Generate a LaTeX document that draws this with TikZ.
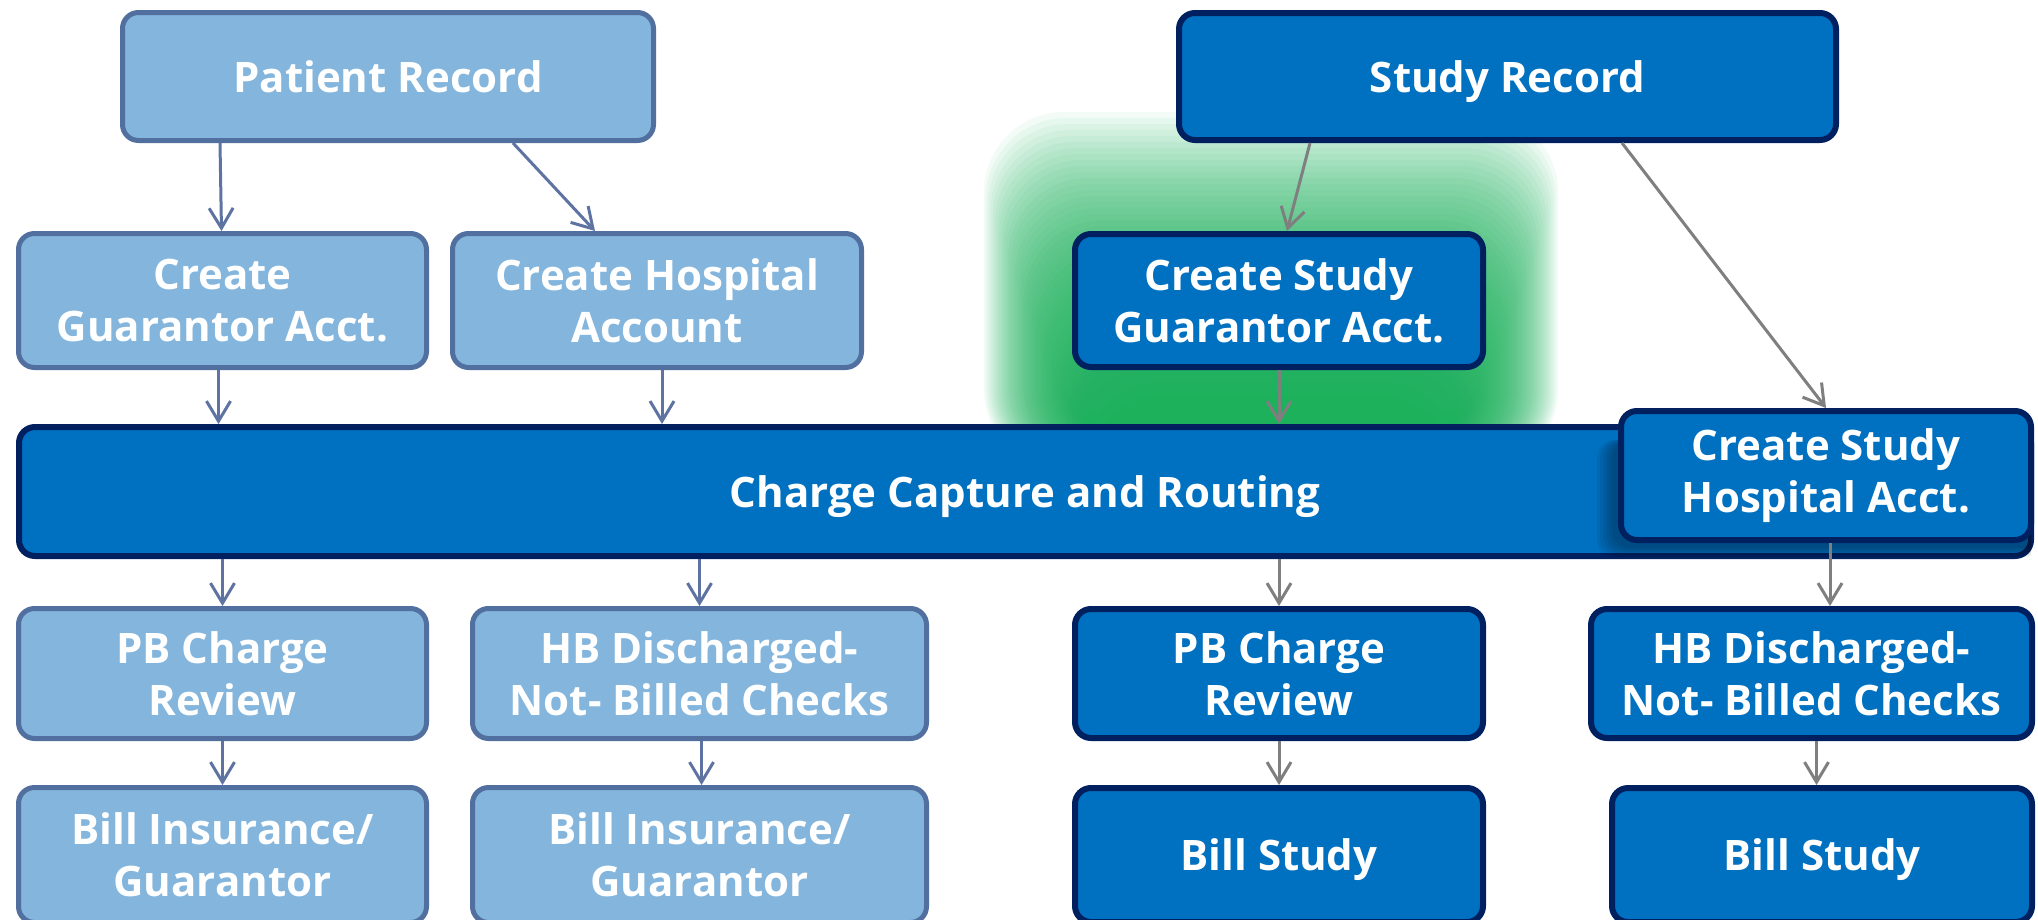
\documentclass[tikz,border=0pt]{standalone}
\usepackage{fontspec}
\setmainfont{Open Sans}
\usetikzlibrary{arrows.meta,calc}
\definecolor{lightfill}{HTML}{83B5DD}
\definecolor{lightdraw}{HTML}{52709F}
\definecolor{darkfill}{HTML}{0070C0}
\definecolor{darkdraw}{HTML}{002060}
\definecolor{arrowL}{HTML}{5E73A2}
\definecolor{arrowR}{HTML}{7F7F7F}
\definecolor{glowc}{HTML}{13B157}
\begin{document}
\begin{tikzpicture}[x=1pt,y=-1pt,
  box/.style={rounded corners=16pt, align=center, text=white, font=\fontsize{42}{52}\selectfont\bfseries, inner sep=0pt},
  oneline/.style={text height=31pt, text depth=0pt},
  lbox/.style={box, fill=lightfill, draw=lightdraw, line width=5pt},
  dbox/.style={box, fill=darkfill, draw=darkdraw, line width=6pt},
  larr/.style={draw=arrowL, line width=3pt, -{Straight Barb[length=20pt,width=24pt]}},
  rarr/.style={draw=arrowR, line width=3pt, -{Straight Barb[length=20pt,width=24pt]}},
]
\useasboundingbox (0,0) rectangle (2038,919);
\clip (0,0) rectangle (2038,919);
\fill[white] (0,0) rectangle (2038,919);
% green glow
\foreach \k in {0,...,49}{
  \fill[glowc, opacity=0.05, rounded corners=80pt]
    ({984+\k*2.2},{112+\k*6}) rectangle ({1558-\k*2.2},470);
}
% top row
\node[lbox, oneline, minimum width=531pt, minimum height=128pt] (pr) at (388,76.5) {Patient Record};
\node[dbox, oneline, minimum width=657pt, minimum height=127pt] (sr) at (1507.5,76.5) {Study Record};
% second row
\node[lbox, minimum width=408pt, minimum height=134pt] (cg) at (222.5,300.5) {Create\\Guarantor Acct.};
\node[lbox, minimum width=409pt, minimum height=134pt] (ch) at (657,300.5) {Create Hospital\\Account};
\node[dbox, minimum width=408pt, minimum height=133pt] (csg) at (1279,300.5) {Create Study\\Guarantor Acct.};
% charge bar
\node[dbox, oneline, minimum width=2012pt, minimum height=129pt] (charge) at (1025,491.5) {Charge Capture and Routing};
% shadow under csh
\begin{scope}
\clip (1560,440) rectangle (2031,556);
\foreach \k in {0,...,5}{
  \fill[black, opacity=0.06, rounded corners=18pt] ({1612-\k*3},{440}) rectangle ({2040},{548+\k*2});
}
\end{scope}
\node[dbox, minimum width=410pt, minimum height=129pt] (csh) at (1826,475.5) {Create Study\\Hospital Acct.};
% fourth row
\node[lbox, minimum width=408pt, minimum height=130pt] (pbl) at (222.5,673.5) {PB Charge\\Review};
\node[lbox, minimum width=454pt, minimum height=130pt] (hbl) at (699.5,673.5) {HB Discharged-\\Not- Billed Checks};
\node[dbox, minimum width=408pt, minimum height=129pt] (pbr) at (1279,673.5) {PB Charge\\Review};
\node[dbox, minimum width=441pt, minimum height=129pt] (hbr) at (1811.5,673.5) {HB Discharged-\\Not- Billed Checks};
% bottom row
\node[lbox, minimum width=408pt, minimum height=135pt] (bil1) at (222.5,855) {Bill Insurance/\\Guarantor};
\node[lbox, minimum width=454pt, minimum height=135pt] (bil2) at (699.5,855) {Bill Insurance/\\Guarantor};
\node[dbox, oneline, minimum width=408pt, minimum height=134pt] (bs1) at (1279,855) {Bill Study};
\node[dbox, oneline, minimum width=420pt, minimum height=134pt] (bs2) at (1822,855) {Bill Study};
% arrows left
\draw[larr] ([xshift=-168pt]pr.south) -- ([xshift=-1pt]cg.north);
\draw[larr] ([xshift=125pt]pr.south) -- ([xshift=-62pt]ch.north);
\draw[larr] ([xshift=-4pt]cg.south) -- ([xshift=-4pt]cg.south |- charge.north);
\draw[larr] ([xshift=5pt]ch.south) -- ([xshift=5pt]ch.south |- charge.north);
\draw[larr] (pbl.north |- charge.south) -- (pbl.north);
\draw[larr] (hbl.north |- charge.south) -- (hbl.north);
\draw[larr] (pbl.south) -- (bil1.north);
\draw[larr] ([xshift=2pt]hbl.south) -- ([xshift=2pt]hbl.south |- bil2.north);
% arrows right
\draw[rarr] ([xshift=-197.5pt]sr.south) -- ([xshift=8pt]csg.north);
\draw[rarr] ([xshift=114.5pt]sr.south) -- (csh.north);
\draw[rarr] (csg.south) -- (csg.south |- charge.north);
\draw[rarr] (pbr.north |- charge.south) -- (pbr.north);
\draw[rarr] ([xshift=4pt]csh.south) -- ([xshift=4pt]csh.south |- hbr.north);
\draw[rarr] (pbr.south) -- (bs1.north);
\draw[rarr] ([xshift=5pt]hbr.south) -- ([xshift=5pt]hbr.south |- bs2.north);
\end{tikzpicture}
\end{document}
